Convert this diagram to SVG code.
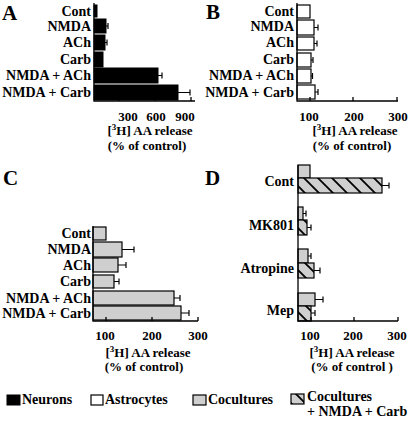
<svg xmlns="http://www.w3.org/2000/svg" width="410" height="421" viewBox="0 0 410 421">
<style>
text{font-family:"Liberation Serif","Times New Roman",serif;font-weight:bold;fill:#000}
.lab{font-size:14px;text-anchor:end}
.tick{font-size:13px;text-anchor:middle}
.ax{font-size:13px;text-anchor:middle}
.let{font-size:21px}
.leg{font-size:14px}
.axis{stroke:#000;stroke-width:1.3;fill:none}
.blk{fill:#000;stroke:#000;stroke-width:1}
.wht{fill:#fff;stroke:#000;stroke-width:1.2}
.gry{fill:#cfcfcf;stroke:#000;stroke-width:1.2}
.hat{fill:url(#hatch);stroke:#000;stroke-width:1.2}
.err{stroke:#000;stroke-width:1.2;fill:none}
</style>
<defs>
<pattern id="hatch" patternUnits="userSpaceOnUse" width="14" height="14">
<rect width="14" height="14" fill="#cfcfcf"/>
<path d="M-2,-2 L16,16 M-9,5 L2,16 M5,-9 L16,2" stroke="#000" stroke-width="1.8"/>
</pattern>
</defs>

<g id="panelA">
<text class="let" x="2" y="20">A</text>
<text class="lab" x="91" y="16">Cont</text>
<text class="lab" x="91" y="31">NMDA</text>
<text class="lab" x="91" y="47">ACh</text>
<text class="lab" x="91" y="64">Carb</text>
<text class="lab" x="91" y="80">NMDA + ACh</text>
<text class="lab" x="91" y="97">NMDA + Carb</text>
<rect class="blk" x="94" y="5" width="3" height="12"/>
<rect class="blk" x="94" y="19" width="12" height="14"/>
<rect class="blk" x="94" y="35" width="11" height="15"/>
<rect class="blk" x="94" y="52" width="9" height="15"/>
<rect class="blk" x="94" y="68" width="64" height="15"/>
<rect class="blk" x="94" y="85" width="84" height="15"/>
<path class="err" d="M106,26H108M108,23V29M105,42.5H107M107,39.5V45.5M158,75.5H162M162,72.5V78.5M178,92.5H190M190,89.5V95.5"/>
<path class="axis" d="M94,3V101H195M119,101V97M155,101V97M191,101V97"/>
<text class="tick" x="128" y="121">300</text>
<text class="tick" x="156" y="121">600</text>
<text class="tick" x="185" y="121">900</text>
<text class="ax" x="150" y="135">[<tspan font-size="9" dy="-5">3</tspan><tspan dy="5">H] AA release</tspan></text>
<text class="ax" x="147" y="150">(% of control)</text>
</g>

<g id="panelB">
<text class="let" x="206" y="19" font-size="20">B</text>
<text class="lab" x="294" y="16">Cont</text>
<text class="lab" x="294" y="31">NMDA</text>
<text class="lab" x="294" y="47">ACh</text>
<text class="lab" x="294" y="64">Carb</text>
<text class="lab" x="294" y="80">NMDA + ACh</text>
<text class="lab" x="294" y="97">NMDA + Carb</text>
<rect class="wht" x="297" y="5" width="13" height="13"/>
<rect class="wht" x="297" y="20" width="17" height="15"/>
<rect class="wht" x="297" y="37" width="17" height="13"/>
<rect class="wht" x="297" y="53" width="14" height="14"/>
<rect class="wht" x="297" y="69" width="14" height="14"/>
<rect class="wht" x="297" y="85" width="18" height="14"/>
<path class="err" d="M314,27.5H318M318,24.5V30.5M314,43.5H317M317,40.5V46.5M311,60H313M313,57V63M311,76H312.5M312.5,73V79M315,92H318M318,89V95"/>
<path class="axis" d="M297,3V101H398M310,101V97M353,101V97M397,101V97"/>
<text class="tick" x="309" y="121">100</text>
<text class="tick" x="354" y="121">200</text>
<text class="tick" x="398" y="121">300</text>
<text class="ax" x="355" y="135">[<tspan font-size="9" dy="-5">3</tspan><tspan dy="5">H] AA release</tspan></text>
<text class="ax" x="352" y="150">(% of control)</text>
</g>

<g id="panelC">
<text class="let" x="3" y="185" font-size="25">C</text>
<text class="lab" x="91" y="238">Cont</text>
<text class="lab" x="91" y="254">NMDA</text>
<text class="lab" x="91" y="270">ACh</text>
<text class="lab" x="91" y="286">Carb</text>
<text class="lab" x="91" y="303">NMDA + ACh</text>
<text class="lab" x="91" y="318">NMDA + Carb</text>
<rect class="gry" x="93" y="227" width="13" height="13"/>
<rect class="gry" x="93" y="242" width="29" height="15"/>
<rect class="gry" x="93" y="258" width="25" height="14"/>
<rect class="gry" x="93" y="275" width="21" height="13"/>
<rect class="gry" x="93" y="291" width="81" height="14"/>
<rect class="gry" x="93" y="306" width="88" height="14"/>
<path class="err" d="M122,249.5H134M134,246.5V252.5M118,265H126M126,262V268M114,281.5H119M119,278.5V284.5M174,298H180M180,295V301M181,313H189M189,310V316"/>
<path class="axis" d="M93,226V321H198M106,321V317M152,321V317M198,321V317"/>
<text class="tick" x="105" y="340">100</text>
<text class="tick" x="152" y="340">200</text>
<text class="tick" x="198" y="340">300</text>
<text class="ax" x="148" y="357">[<tspan font-size="9" dy="-5">3</tspan><tspan dy="5">H] AA release</tspan></text>
<text class="ax" x="144" y="371">(% of control)</text>
</g>

<g id="panelD">
<text class="let" x="205" y="185" font-size="25">D</text>
<text class="lab" x="294" y="186">Cont</text>
<text class="lab" x="294" y="230">MK801</text>
<text class="lab" x="294" y="273">Atropine</text>
<text class="lab" x="294" y="315">Mep</text>
<rect class="gry" x="298" y="165" width="12" height="13"/>
<rect class="hat" x="298" y="178" width="84" height="15"/>
<rect class="gry" x="298" y="207" width="5" height="13"/>
<rect class="hat" x="298" y="220" width="9" height="15"/>
<rect class="gry" x="298" y="249" width="10" height="14"/>
<rect class="hat" x="298" y="263" width="16" height="15"/>
<rect class="gry" x="298" y="293" width="17" height="13"/>
<rect class="hat" x="298" y="306" width="13" height="15"/>
<path class="err" d="M382,185.5H389M389,182.5V188.5M303,213.5H306M306,210.5V216.5M307,227.5H311M311,224.5V230.5M308,256H311M311,253V259M314,270.5H320M320,267.5V273.5M315,299.5H323M323,296.5V302.5M311,313H315M315,310V316"/>
<path class="axis" d="M298,165V321H398M311,321V317M354,321V317M398,321V317"/>
<text class="tick" x="310" y="340">100</text>
<text class="tick" x="353" y="340">200</text>
<text class="tick" x="397" y="340">300</text>
<text class="ax" x="352" y="357">[<tspan font-size="9" dy="-5">3</tspan><tspan dy="5">H] AA release</tspan></text>
<text class="ax" x="352" y="371">(% of control )</text>
</g>

<g id="legend">
<rect class="blk" x="7" y="395" width="13" height="10"/>
<text class="leg" x="22" y="404">Neurons</text>
<rect class="wht" x="91" y="395" width="12" height="10"/>
<text class="leg" x="105" y="404">Astrocytes</text>
<rect class="gry" x="193" y="395" width="13" height="10"/>
<text class="leg" x="208" y="404">Cocultures</text>
<rect class="hat" x="291" y="394" width="13" height="10"/>
<text class="leg" x="307" y="401">Cocultures</text>
<text class="leg" x="307" y="416">+ NMDA + Carb</text>
</g>
</svg>
